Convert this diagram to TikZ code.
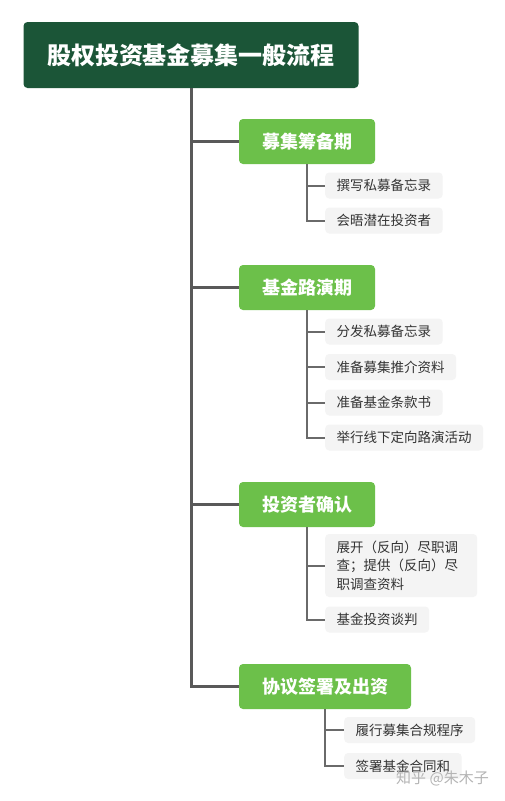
\documentclass[tikz,border=0pt]{standalone}
\usepackage{fontspec}
\newfontfamily\cjk{Noto Sans CJK SC}
\definecolor{rootgreen}{HTML}{1B5537}
\definecolor{brgreen}{HTML}{6CC04A}
\definecolor{linegray}{HTML}{595959}
\definecolor{childfill}{HTML}{F4F4F4}
\definecolor{childtext}{HTML}{333333}
\definecolor{wmgray}{HTML}{B4B4B4}
\tikzset{
  rootbox/.style={fill=rootgreen, rounded corners=4pt, text=white, font=\cjk\bfseries\fontsize{24}{28}\selectfont, minimum width=335pt, minimum height=66pt, inner sep=0pt},
  branchbox/.style={fill=brgreen, rounded corners=4pt, text=white, font=\cjk\bfseries\fontsize{18}{22}\selectfont, minimum height=45pt, inner sep=0pt},
  leafbox/.style={fill=childfill, rounded corners=4pt, text=childtext, font=\cjk\fontsize{13.5}{18.5}\selectfont, minimum height=26pt, inner xsep=11.5pt, inner ysep=0pt, anchor=west, align=left},
  trunk/.style={draw=linegray, line width=3pt},
  twig/.style={draw=linegray!90, line width=2pt},
  watermark/.style={text=wmgray, font=\cjk\fontsize{15}{18}\selectfont, inner sep=0pt}
}
\begin{document}
\begin{tikzpicture}[x=1pt,y=-1pt]
\useasboundingbox (0,0) rectangle (505,801);
\fill[white] (0,0) rectangle (505,801);
% root
\node[rootbox] (root) at (191,55) {股权投资基金募集一般流程};
% branches
\node[branchbox, minimum width=136pt] (b1) at (307,141.5) {募集筹备期};
\node[branchbox, minimum width=136pt] (b2) at (307,287.5) {基金路演期};
\node[branchbox, minimum width=136pt] (b3) at (307,504.5) {投资者确认};
\node[branchbox, minimum width=172pt] (b4) at (325,686.5) {协议签署及出资};
% leaves
\node[leafbox] (c11) at (325,185.5) {撰写私募备忘录};
\node[leafbox] (c12) at (325,220.5) {会晤潜在投资者};
\node[leafbox] (c21) at (325,331.5) {分发私募备忘录};
\node[leafbox] (c22) at (325,367) {准备募集推介资料};
\node[leafbox] (c23) at (325,402.5) {准备基金条款书};
\node[leafbox] (c24) at (325,437.5) {举行线下定向路演活动};
\node[leafbox, minimum height=63pt, text width=129pt] (c31) at (325,565.5) {展开（反向）尽职调\\查；提供（反向）尽\\职调查资料};
\node[leafbox] (c32) at (325,619.5) {基金投资谈判};
\node[leafbox] (c41) at (344,730) {履行募集合规程序};
\node[leafbox] (c42) at (344,766) {签署基金合同和};
% trunk connectors
\draw[trunk] (root.south) |- (b4.west);
\draw[trunk] (root.south) |- (b1.west);
\draw[trunk] (root.south) |- (b2.west);
\draw[trunk] (root.south) |- (b3.west);
% twig connectors
\draw[twig] (b1.south) |- (c11.west);
\draw[twig] (b1.south) |- (c12.west);
\draw[twig] (b2.south) |- (c21.west);
\draw[twig] (b2.south) |- (c22.west);
\draw[twig] (b2.south) |- (c23.west);
\draw[twig] (b2.south) |- (c24.west);
\draw[twig] (b3.south) |- (c31.west);
\draw[twig] (b3.south) |- (c32.west);
\draw[twig] (b4.south) |- (c41.west);
\draw[twig] (b4.south) |- (c42.west);
% watermark
\node[watermark, anchor=west] (wm) at (396,778) {知乎 @朱木子};
\end{tikzpicture}
\end{document}
